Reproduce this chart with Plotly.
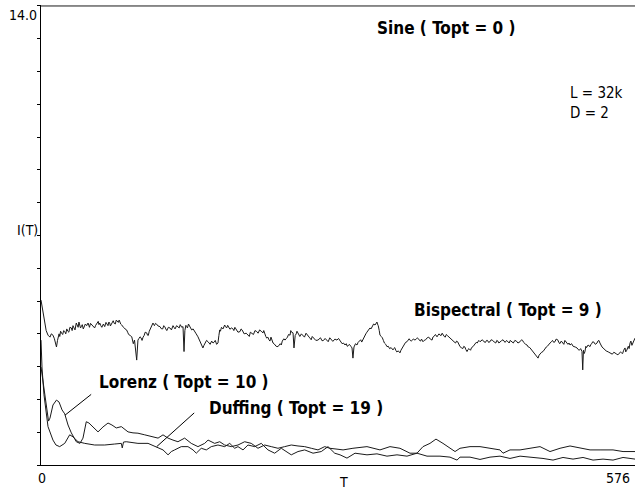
import plotly.graph_objects as go

# Mutual information I(T) versus delay T for four test signals (L = 32k, D = 2)
T_MAX = 576
I_MAX = 14.0

# (T, I) samples for each signal
sine_pts = [(0, 14.0), (576, 14.0)]

bisp_pts = [
    (0, 5.03), (2, 4.70), (3.6, 4.33), (5, 4.10), (6.8, 3.96), (8.7, 3.90), (10, 4.00), (11.6, 3.96),
    (13, 3.85), (15, 3.60), (16, 3.80), (17.5, 4.00), (18.2, 3.92), (19, 4.08), (20, 4.02), (21, 3.98),
    (22, 4.10), (23, 4.07), (24, 4.00), (25, 4.15), (26, 4.08), (27, 4.05), (28, 4.20), (29.4, 4.18),
    (30.2, 4.10), (31, 4.25), (32, 4.18), (33, 4.12), (34.2, 4.33), (35, 4.24), (36, 4.20), (36.8, 4.36),
    (37.5, 4.30), (38.3, 4.18), (39.1, 4.22), (40, 4.28), (41, 4.15), (42, 4.22), (43, 4.30), (44.3, 4.25),
    (45.6, 4.33), (46.3, 4.27), (47, 4.20), (48, 4.32), (49, 4.28), (50.5, 4.22), (52, 4.18), (53, 4.26),
    (54, 4.30), (55.5, 4.38), (56.2, 4.28), (57, 4.33), (58, 4.25), (59, 4.20), (60.5, 4.30), (61.8, 4.22),
    (63, 4.35), (64, 4.28), (65, 4.25), (65.8, 4.36), (66.6, 4.33), (67.3, 4.24), (68, 4.28), (69, 4.35),
    (70, 4.40), (71, 4.32), (72, 4.30), (73, 4.42), (74, 4.38), (75, 4.35), (75.8, 4.42), (76.6, 4.33),
    (77.3, 4.30), (78, 4.28), (79, 4.22), (80, 4.20), (81.5, 4.15), (83, 4.12), (84, 4.05), (85, 3.98),
    (86.5, 3.95), (88, 3.91), (89.5, 3.70), (90.7, 3.81), (92.8, 3.20), (94, 3.81), (95, 3.86), (96, 3.91),
    (97, 3.88), (98, 3.80), (99, 3.90), (100, 3.95), (101, 4.05), (102.5, 4.03), (103.3, 3.96), (104, 3.95),
    (105, 4.08), (106, 4.15), (107.3, 4.26), (108.6, 4.33), (109.3, 4.28), (110, 4.25), (111, 4.32),
    (112, 4.30), (113.5, 4.24), (115.4, 4.22), (116.5, 4.16), (118, 4.15), (119, 4.25), (120, 4.22),
    (121, 4.15), (122, 4.10), (123.5, 4.20), (125, 4.18), (126.5, 4.12), (128, 4.25), (129, 4.20),
    (130, 4.15), (131.5, 4.25), (132.8, 4.22), (134, 4.18), (135, 4.28), (136.5, 4.20), (137.7, 4.22),
    (138.7, 3.46), (139.5, 4.10), (140.5, 4.26), (141.3, 4.22), (142, 4.18), (143, 4.30), (144.5, 4.20),
    (146.1, 4.12), (147.5, 4.15), (149, 4.05), (150.5, 4.00), (152.2, 3.91), (153, 3.85), (154, 3.80),
    (155.5, 3.65), (157, 3.57), (158, 3.65), (159, 3.70), (160.5, 3.80), (162, 3.76), (163, 3.70),
    (164, 3.68), (165.5, 3.78), (166.8, 3.72), (168, 3.75), (169, 3.80), (170.3, 3.68), (171.6, 3.72),
    (172.5, 3.95), (173.3, 4.12), (174, 4.08), (175, 4.20), (176.5, 4.15), (178.1, 4.27), (179, 4.22),
    (180, 4.18), (181, 4.26), (182, 4.22), (183.2, 4.14), (184.5, 4.18), (186, 4.16), (187, 4.10),
    (188, 4.20), (189, 4.15), (191, 4.05), (193, 4.07), (194, 4.15), (195, 4.12), (196, 4.05), (197, 4.00),
    (199, 4.02), (200.7, 3.96), (202, 3.92), (203, 4.05), (204.5, 4.00), (206, 3.98), (207.5, 4.10),
    (209.2, 4.07), (210.5, 4.02), (212, 4.12), (213.5, 4.08), (215.3, 4.03), (216, 4.10), (217, 3.98),
    (218, 3.92), (218.9, 3.87), (220, 3.90), (221, 3.82), (222, 3.78), (223, 3.90), (224, 3.80),
    (225, 3.72), (226, 3.70), (226.9, 3.66), (228, 3.62), (229.8, 3.61), (231, 3.65), (232, 3.70),
    (233, 3.66), (234, 3.78), (235.5, 3.85), (236.6, 3.81), (238, 3.86), (239, 3.90), (240, 3.98),
    (241.5, 3.96), (242.2, 4.10), (243, 4.05), (244.4, 4.03), (245.3, 3.57), (246.5, 3.95), (247.5, 4.00),
    (248.2, 4.08), (249.2, 4.03), (250, 3.98), (251, 3.92), (252.5, 4.00), (254, 3.96), (255.5, 3.90),
    (257, 4.02), (258.5, 3.94), (260, 3.90), (260.8, 3.87), (262, 3.82), (263, 3.92), (264, 3.88),
    (265, 3.85), (266.5, 3.80), (268.6, 3.81), (270, 3.84), (271, 3.88), (272.5, 3.79), (274, 3.80),
    (275.5, 3.86), (277.3, 3.81), (278.5, 3.76), (280, 3.88), (281.5, 3.82), (283, 3.77), (285, 3.84),
    (287, 3.81), (288.5, 3.86), (290, 3.78), (291, 3.74), (292, 3.70), (293.3, 3.72), (294.8, 3.66),
    (296, 3.70), (297, 3.62), (298, 3.64), (299, 3.68), (300.5, 3.62), (301.6, 3.57), (302.5, 3.26),
    (303.5, 3.60), (305, 3.70), (306.4, 3.66), (307.5, 3.74), (309, 3.80), (310, 3.82), (311, 3.75),
    (312.5, 3.86), (314.2, 3.96), (315, 4.00), (316, 4.05), (317.5, 4.10), (319, 4.18), (320, 4.15),
    (321, 4.22), (322.5, 4.30), (323.9, 4.27), (325, 4.34), (325.8, 4.36), (326.3, 4.30), (327, 4.25),
    (328, 4.10), (328.7, 3.96), (330, 3.92), (331, 3.88), (332, 3.80), (333, 3.72), (334.3, 3.68),
    (335.5, 3.61), (336.8, 3.62), (338, 3.55), (339.5, 3.58), (341.3, 3.51), (342, 3.55), (343, 3.58),
    (344, 3.50), (345, 3.45), (346.5, 3.48), (348.1, 3.42), (349, 3.50), (350, 3.55), (351, 3.62),
    (352, 3.68), (353.5, 3.74), (354.9, 3.76), (356, 3.80), (357, 3.85), (358, 3.80), (359, 3.78),
    (361, 3.84), (362.7, 3.81), (364, 3.85), (365, 3.88), (366.5, 3.82), (368, 3.78), (369, 3.84),
    (370.4, 3.76), (371.5, 3.80), (373, 3.82), (374.5, 3.88), (376, 3.90), (377.5, 3.84), (379.2, 3.81),
    (380, 3.90), (381, 3.92), (382.5, 3.98), (384, 3.91), (385, 3.96), (386, 4.00), (387, 3.96),
    (388, 3.95), (389, 4.02), (389.8, 3.96), (391, 3.92), (392, 3.90), (393, 3.98), (394, 3.95),
    (395.5, 3.90), (396.6, 3.87), (398, 3.85), (399, 3.80), (400.5, 3.76), (402, 3.72), (403, 3.78),
    (404, 3.76), (405, 3.68), (406.3, 3.61), (407.5, 3.58), (409, 3.55), (410, 3.62), (411, 3.60),
    (412, 3.52), (413.1, 3.46), (414, 3.52), (415, 3.55), (416.5, 3.50), (417.5, 3.58), (418.9, 3.61),
    (420, 3.66), (421, 3.70), (422, 3.74), (423, 3.72), (424.5, 3.80), (425.7, 3.76), (427, 3.78),
    (428, 3.82), (429.5, 3.76), (431, 3.74), (432, 3.80), (433, 3.80), (434, 3.74), (435.4, 3.76),
    (436.5, 3.82), (438, 3.80), (439.5, 3.75), (441, 3.72), (442, 3.80), (443, 3.78), (444, 3.72),
    (445.1, 3.76), (446.5, 3.79), (448, 3.82), (449, 3.76), (450, 3.74), (451.5, 3.80), (452.8, 3.76),
    (454, 3.72), (455, 3.80), (456.5, 3.76), (458, 3.72), (459.5, 3.80), (461, 3.78), (462.5, 3.72),
    (464.5, 3.76), (466, 3.82), (467, 3.80), (468, 3.74), (469, 3.70), (470, 3.68), (471.3, 3.66),
    (472.5, 3.60), (474, 3.58), (475.5, 3.52), (477.1, 3.46), (478, 3.42), (479, 3.38), (480.5, 3.32),
    (482, 3.26), (483, 3.35), (484, 3.40), (485.5, 3.44), (486.8, 3.46), (488, 3.52), (489, 3.55),
    (490, 3.60), (491, 3.62), (492.3, 3.68), (493.6, 3.72), (495, 3.76), (496, 3.80), (497.2, 3.74),
    (498.4, 3.76), (499.5, 3.84), (501, 3.82), (502, 3.75), (503, 3.70), (504.5, 3.78), (506.2, 3.72),
    (507, 3.68), (508, 3.80), (509.5, 3.74), (511, 3.68), (512, 3.72), (513, 3.66), (514.5, 3.70),
    (516, 3.62), (518, 3.60), (519.8, 3.57), (521, 3.52), (522, 3.50), (523.3, 3.55), (524.6, 3.46),
    (525.3, 2.90), (526, 3.50), (526.8, 3.40), (527.5, 3.46), (528.3, 3.62), (529, 3.58), (530.5, 3.66),
    (532.4, 3.61), (533.2, 3.68), (534, 3.70), (535, 3.76), (536, 3.75), (537.5, 3.68), (539.2, 3.72),
    (540, 3.78), (541, 3.80), (542, 3.72), (543, 3.65), (544, 3.60), (545, 3.57), (546.5, 3.52),
    (548, 3.48), (550, 3.45), (551.8, 3.42), (553, 3.40), (554, 3.38), (555.5, 3.44), (557, 3.42),
    (558.3, 3.38), (559.5, 3.36), (561, 3.40), (562, 3.45), (563, 3.42), (564, 3.40), (565, 3.50),
    (566.3, 3.57), (567, 3.45), (568, 3.50), (569.5, 3.62), (570.3, 3.55), (571.2, 3.72), (572, 3.78),
    (573, 3.65), (574, 3.74), (575, 3.82), (576, 3.87),
]

lorenz_pts = [
    (0, 2.99), (1.9, 2.59), (4.8, 1.83), (7.3, 1.34), (8.7, 1.43), (11.6, 1.83), (15, 1.98), (17.5, 1.92),
    (20.4, 1.68), (23, 1.56), (26.2, 1.22), (29.4, 0.98), (34.2, 0.71), (37.8, 0.66), (40.7, 0.82),
    (43.9, 1.32), (46.5, 1.28), (50.4, 1.17), (55.3, 1.01), (60.1, 1.16), (65, 1.28), (68.8, 1.22),
    (73, 1.13), (77.9, 1.17), (84.4, 1.01), (89.2, 0.98), (94, 0.97), (100.6, 0.92), (107, 0.86),
    (113.5, 0.82), (118.3, 0.92), (123.2, 0.82), (128, 0.76), (132.8, 0.71), (139.3, 0.82), (145.7, 0.66),
    (152.2, 0.56), (158.7, 0.66), (162, 0.76), (168.4, 0.66), (173.3, 0.71), (178.1, 0.61), (184.5, 0.56),
    (191, 0.61), (197.5, 0.71), (203.9, 0.66), (210.4, 0.51), (216.9, 0.61), (223.3, 0.56), (229.8, 0.51),
    (236.3, 0.56), (242.7, 0.61), (249.2, 0.58), (255.7, 0.56), (262.1, 0.51), (268.6, 0.46),
    (275.1, 0.56), (280, 0.51), (288, 0.48), (292.9, 0.46), (302.5, 0.51), (316.1, 0.56), (328.7, 0.46),
    (338.4, 0.56), (348.1, 0.51), (357.8, 0.36), (364.6, 0.36), (370.4, 0.56), (377.2, 0.66), (383, 0.79),
    (389.8, 0.66), (396.6, 0.51), (401.5, 0.41), (406.3, 0.51), (416, 0.56), (425.7, 0.56), (435.4, 0.51),
    (445.1, 0.46), (448, 0.36), (454.8, 0.46), (464.5, 0.46), (477.1, 0.51), (483.9, 0.56), (493.6, 0.41),
    (503.3, 0.51), (513, 0.58), (522.7, 0.51), (532.4, 0.46), (542.1, 0.46), (554.7, 0.46), (564.4, 0.41),
    (576, 0.41),
]

duffing_pts = [
    (0, 3.81), (1, 2.96), (2.9, 2.14), (6.8, 1.17), (11.6, 0.76), (14.5, 0.61), (18.1, 0.56), (23, 0.66),
    (27.8, 0.92), (31, 0.86), (35.9, 0.71), (42.4, 0.66), (52, 0.61), (61.8, 0.61), (71.5, 0.64),
    (77.9, 0.66), (78.8, 0.52), (80, 0.70), (82.7, 0.71), (90.9, 0.66), (94, 0.66), (103.8, 0.66),
    (111.8, 0.56), (118.3, 0.46), (123.2, 0.31), (126.4, 0.41), (129.6, 0.46), (136, 0.56), (142.5, 0.56),
    (147.4, 0.46), (150.6, 0.36), (155.4, 0.51), (160.3, 0.46), (165.1, 0.56), (171.6, 0.61), (178.1, 0.56),
    (183, 0.66), (187.8, 0.51), (191, 0.56), (195.9, 0.46), (200.7, 0.61), (207.2, 0.56), (213.6, 0.66),
    (220.1, 0.46), (226.6, 0.36), (233, 0.51), (242.7, 0.31), (249.2, 0.41), (255.7, 0.46), (263.8, 0.36),
    (271.8, 0.41), (278.3, 0.56), (284.8, 0.36), (290, 0.31), (296.7, 0.21), (304.5, 0.36), (316.1, 0.31),
    (325.8, 0.34), (335.5, 0.27), (345.2, 0.31), (354.9, 0.27), (364.6, 0.36), (374.3, 0.27), (386.9, 0.27),
    (396.6, 0.24), (403.4, 0.15), (406.3, 0.24), (416, 0.24), (425.7, 0.17), (435.4, 0.24), (445.1, 0.27),
    (454.8, 0.20), (464.5, 0.27), (477.1, 0.24), (486.8, 0.20), (496.5, 0.15), (506.2, 0.23), (515.9, 0.18),
    (525.6, 0.23), (535.3, 0.15), (545, 0.18), (554.7, 0.15), (564.4, 0.23), (576, 0.18),
]

LINE = "#1a1a1a"
NARROW = "Liberation Sans Narrow, DejaVu Sans Condensed, Roboto Condensed, Arial Narrow, sans-serif"

W, H = 635, 489
ML, MR, MT, MB = 41, 0, 5, 24

fig = go.Figure()
for pts in (sine_pts, bisp_pts, lorenz_pts, duffing_pts):
    t, i = zip(*pts)
    fig.add_trace(go.Scatter(x=list(t), y=list(i), mode="lines", line=dict(color=LINE, width=1),
                             hoverinfo="skip", showlegend=False))


def px_x(px):
    return (px - ML) / (W - ML - MR)


def px_y(py):
    return (H - MB - py) / (H - MB - MT)


annotations = []
# curve labels
curve_labels = [
    ("Sine ( Topt = 0 )", 324, 13.34),
    ("Bispectral ( Topt = 9 )", 360, 4.73),
    ("Lorenz ( Topt = 10 )", 54, 2.53),
    ("Duffing ( Topt = 19 )", 161, 1.74),
]
for text, x, y in curve_labels:
    annotations.append(dict(x=x, y=y, xref="x", yref="y", text=f"<b>{text}</b>", showarrow=False,
                            xanchor="left", yanchor="middle",
                            font=dict(family=NARROW, size=17, color="#000")))
# parameter note (two lines in one block)
annotations.append(dict(x=511, y=11.04, xref="x", yref="y", text="L = 32k<br>D = 2", showarrow=False,
                        xanchor="left", yanchor="middle", align="left",
                        font=dict(family=NARROW, size=15, color="#000")))
# leader lines from labels to curves
for tx, ty, hx, hy in [(23.3, 1.52, 50.1, 2.19), (112.2, 0.56, 150, 1.63)]:
    annotations.append(dict(x=tx, y=ty, ax=hx, ay=hy, xref="x", yref="y", axref="x", ayref="y",
                            text="", showarrow=True, arrowhead=0, arrowwidth=1, arrowcolor="#000"))
# axis labels
axis_font = dict(family=NARROW, size=14, color="#000")
annotations += [
    dict(x=px_x(39), y=px_y(15), xref="paper", yref="paper", text="14.0", showarrow=False,
         xanchor="right", yanchor="middle", font=axis_font),
    dict(x=px_x(40), y=px_y(230), xref="paper", yref="paper", text="I(T)", showarrow=False,
         xanchor="right", yanchor="middle", font=axis_font),
    dict(x=px_x(42), y=px_y(478), xref="paper", yref="paper", text="0", showarrow=False,
         xanchor="center", yanchor="middle", font=axis_font),
    dict(x=px_x(343), y=px_y(482), xref="paper", yref="paper", text="T", showarrow=False,
         xanchor="center", yanchor="middle", font=axis_font),
    dict(x=px_x(618), y=px_y(478), xref="paper", yref="paper", text="576", showarrow=False,
         xanchor="center", yanchor="middle", font=axis_font),
]

fig.update_layout(
    width=W, height=H,
    margin=dict(l=ML, r=MR, t=MT, b=MB, pad=0),
    paper_bgcolor="white", plot_bgcolor="white",
    annotations=annotations,
    xaxis=dict(range=[0, T_MAX], showgrid=False, zeroline=False, showline=True,
               linecolor="#000", linewidth=1, ticks="", showticklabels=False),
    yaxis=dict(range=[0, I_MAX + 0.03], showgrid=False, zeroline=False, showline=True,
               linecolor="#000", linewidth=1, ticks="outside", ticklen=3, tickcolor="#000",
               tickwidth=1, tickmode="linear", tick0=0, dtick=1, showticklabels=False),
)

fig.write_html("out.html")
